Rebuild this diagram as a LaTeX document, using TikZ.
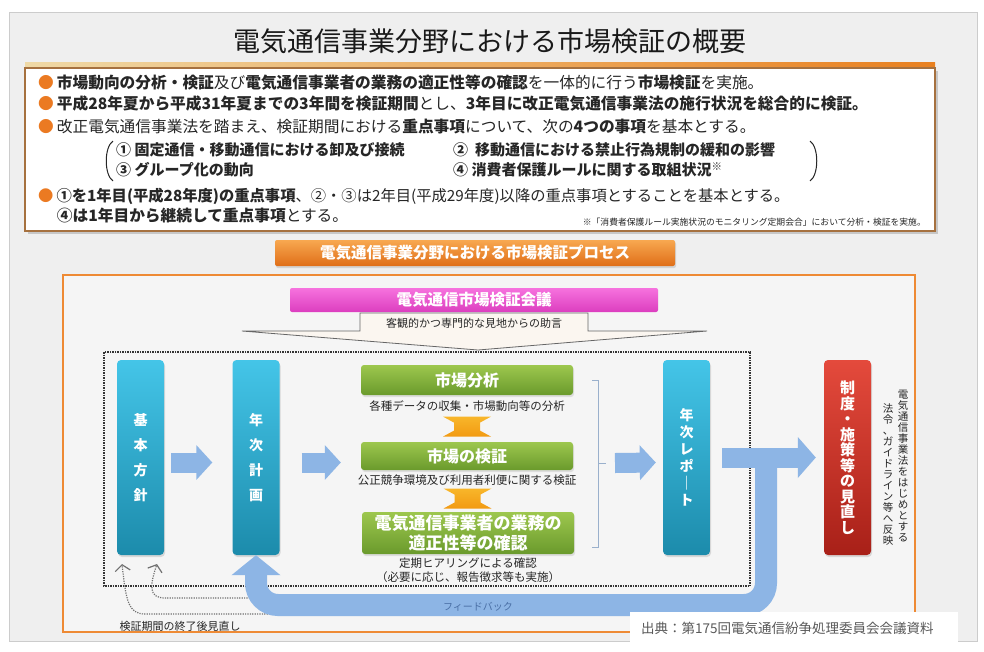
\documentclass[tikz,border=0pt]{standalone}
\usepackage{fontspec}
\setmainfont{Noto Sans CJK JP}
\usetikzlibrary{arrows.meta, calc, positioning, shadows}

\definecolor{slidegray}{HTML}{EFEFEF}
\definecolor{innergray}{HTML}{F5F5F5}
\definecolor{framebrown}{HTML}{A6713F}
\definecolor{bulletorange}{HTML}{EB7A22}
\definecolor{frameorange}{HTML}{EE8A34}
\definecolor{bannertop}{HTML}{F8A850}
\definecolor{bannerbot}{HTML}{DF6E18}
\definecolor{pinktop}{HTML}{F672DE}
\definecolor{pinkbot}{HTML}{DC3EBF}
\definecolor{cyantop}{HTML}{44C5E8}
\definecolor{cyanbot}{HTML}{1C8BAB}
\definecolor{redtop}{HTML}{E44A3C}
\definecolor{redbot}{HTML}{A82018}
\definecolor{greentop}{HTML}{9DC74E}
\definecolor{greenbot}{HTML}{6A9A2C}
\definecolor{arrowblue}{HTML}{8DB5E5}
\definecolor{dbltop}{HTML}{F8B62A}
\definecolor{dblbot}{HTML}{F29A12}
\definecolor{textdark}{HTML}{262626}
\definecolor{dotgray}{HTML}{707070}
\definecolor{calloutfill}{HTML}{FBF6F0}
\definecolor{fbtext}{HTML}{4A6FA5}
\definecolor{titlegold}{HTML}{EFD9A6}
\definecolor{titleorange}{HTML}{E9801F}
\definecolor{bracketblue}{HTML}{9AB0CC}

\newcommand{\bul}{{\color{bulletorange}●}\hspace{3pt}}

\tikzset{
    bluebox/.style={rounded corners=4pt, top color=cyantop, bottom color=cyanbot,
        minimum width=47pt, minimum height=195pt, inner sep=0pt, text=white, align=center,
        font=\fontsize{14}{25}\selectfont\bfseries,
        drop shadow={opacity=0.25, shadow xshift=1pt, shadow yshift=-2pt}},
    redbox/.style={bluebox, top color=redtop, bottom color=redbot,
        font=\fontsize{15}{15.5}\selectfont\bfseries},
    greenbox/.style={rounded corners=3pt, top color=greentop, bottom color=greenbot,
        minimum width=212pt, inner sep=0pt, text=white, align=center,
        font=\fontsize{16}{21}\selectfont\bfseries,
        drop shadow={opacity=0.2, shadow xshift=1pt, shadow yshift=-2pt}},
    caption/.style={inner sep=0pt, align=center, text=textdark,
        font=\fontsize{11.5}{14}\selectfont},
    vtext/.style={anchor=north, inner sep=0pt, align=center, text=textdark,
        font=\fontsize{10.5}{11}\selectfont},
    linetext/.style={anchor=west, inner sep=0pt, text=textdark,
        font=\fontsize{15.7}{18}\selectfont},
    itemtext/.style={anchor=west, inner sep=0pt, text=textdark,
        font=\fontsize{15}{18}\selectfont\bfseries},
    banner/.style={rounded corners=2pt, top color=bannertop, bottom color=bannerbot,
        minimum width=400pt, minimum height=26pt, inner sep=0pt, text=white,
        font=\fontsize{15.5}{18}\selectfont\bfseries},
    pinkbar/.style={banner, top color=pinktop, bottom color=pinkbot,
        minimum width=368pt, minimum height=24pt},
    fatarrow/.style={draw=arrowblue, line width=20pt, -{Triangle[width=34pt, length=16pt]}},
    dblarrow/.style={top color=dbltop, bottom color=dblbot},
    bracketline/.style={draw=bracketblue, line width=0.9pt},
    dotframe/.style={draw=black!80, line width=1.5pt, dash pattern=on 1.5pt off 1pt},
    dotarrow/.style={draw=dotgray, line width=1.2pt, dash pattern=on 1.2pt off 1.2pt,
        -{Straight Barb[length=6pt, width=15pt]}},
}

\begin{document}
\begin{tikzpicture}[x=1pt, y=-1pt]
    \useasboundingbox (0,0) rectangle (984,651);

    % Slide background
    \fill[white] (0,0) rectangle (984,651);
    \draw[fill=slidegray, draw=black!20] (9,12) rectangle (977,641);

    % Title
    \node[text=black!90] (title) at (490,41) {\fontsize{27}{30}\selectfont 電気通信事業分野における市場検証の概要};
    \shade[left color=titlegold, right color=titleorange] (25,62) rectangle (935,68);

    % Summary box
    \fill[black!22] (28,71) rectangle (938,234);
    \draw[draw=framebrown, line width=1.5pt, fill=white] (25,68) rectangle (935,231);

    \node[linetext] (l1) at (38,83) {\bul\textbf{市場動向の分析・検証}及び\textbf{電気通信事業者の業務の適正性等の確認}を一体的に行う\textbf{市場検証}を実施。};
    \node[linetext] (l2) at (38,104) {\bul\textbf{平成28年夏から平成31年夏までの3年間を検証期間}とし、\textbf{3年目に改正電気通信事業法の施行状況を総合的に検証。}};
    \node[linetext] (l3) at (38,127) {\bul 改正電気通信事業法を踏まえ、検証期間における\textbf{重点事項}について、次の\textbf{4つの事項}を基本とする。};

    \node[itemtext] (i1) at (116,150) {① 固定通信・移動通信における卸及び接続};
    \node[itemtext] (i2) at (453,150) {②\ \ 移動通信における禁止行為規制の緩和の影響};
    \node[itemtext] (i3) at (116,170) {③ グループ化の動向};
    \node[itemtext] (i4) at (453,170) {④ 消費者保護ルールに関する取組状況\textsuperscript{※}};
    \draw[textdark, line width=1pt] (113,141) .. controls (104,147) and (104,175) .. (113,181);
    \draw[textdark, line width=1pt] (810,141) .. controls (819,147) and (819,175) .. (810,181);

    \node[linetext, font=\fontsize{15.3}{18}\selectfont] (l4) at (38,196) {\bul\textbf{①を1年目(平成28年度)の重点事項}、②・③は2年目(平成29年度)以降の重点事項とすることを基本とする。};
    \node[linetext] (l5) at (56.7,216) {\textbf{④は1年目から継続して重点事項}とする。};
    \node[anchor=east, inner sep=0pt, text=textdark, font=\fontsize{8.8}{10}\selectfont] (note) at (926,222) {※「消費者保護ルール実施状況のモニタリング定期会合」において分析・検証を実施。};

    % Process banner and frame
    \node[banner, drop shadow={opacity=0.25, shadow xshift=1pt, shadow yshift=-2pt}] (process) at (475,253) {電気通信事業分野における市場検証プロセス};
    \draw[draw=frameorange, line width=2pt, fill=innergray] (63,275) rectangle (915,632);

    % Council and advice
    \node[pinkbar] (kaigi) at (474,300) {電気通信市場検証会議};
    \draw[fill=calloutfill, draw=black!60, line width=0.8pt] (242,331) -- (360,331) -- (360,313) -- (588,313) -- (588,331) -- (707,331) -- (478,350) -- cycle;
    \node[caption, font=\fontsize{11}{12}\selectfont] (advice) at (474,323) {客観的かつ専門的な見地からの助言};

    % Yearly cycle
    \draw[dotframe] (104,352) rectangle (750,586);

    \node[bluebox] (kihon) at (140.5,457.5) {基\\本\\方\\針};
    \node[bluebox] (nenji) at (256,457.5) {年\\次\\計\\画};
    \node[bluebox, font=\fontsize{14}{17}\selectfont\bfseries] (report) at (686.5,457.5) {年\\次\\レ\\ポ\\｜\\ト};
    \node[redbox] (seido) at (847.5,457.5) {制\\度\\・\\施\\策\\等\\の\\見\\直\\し};

    \node[vtext] (hanei1) at (903,390) {電\\気\\通\\信\\事\\業\\法\\を\\は\\じ\\め\\と\\す\\る};
    \node[vtext] (hanei2) at (888,403) {法\\令\\、\\ガ\\イ\\ド\\ラ\\イ\\ン\\等\\へ\\反\\映};

    \node[greenbox, minimum height=30pt] (bunseki) at (467,380) {市場分析};
    \node[caption, below=5pt of bunseki] (cap1) {各種データの収集・市場動向等の分析};
    \node[greenbox, minimum height=28pt] (kensho) at (467,456) {市場の検証};
    \node[caption, below=4pt of kensho] (cap2) {公正競争環境及び利用者利便に関する検証};
    \node[greenbox, minimum height=42pt, font=\fontsize{17}{20}\selectfont\bfseries] (kakunin) at (468,533) {電気通信事業者の業務の\\適正性等の確認};
    \node[caption, below=3pt of kakunin] (cap3) {定期ヒアリングによる確認\\（必要に応じ、報告徴求等も実施）};

    \coordinate (d1) at ($(cap1.south)!0.5!(kensho.north)$);
    \coordinate (d2) at ($(cap2.south)!0.5!(kakunin.north)$);
    \foreach \d in {d1,d2}
        \shade[dblarrow] ([shift={(-24,-10)}]\d) -- ++(48,0) -- ++(-11,6) -- ++(0,8) -- ++(11,6)
            -- ++(-48,0) -- ++(11,-6) -- ++(0,-8) -- cycle;

    % Bracket
    \draw[bracketline] (592,380) -- (598,380) -- (598,547) -- (592,547);
    \draw[bracketline] (598,463) -- (606,463) coordinate (brktip);

    % Arrows
    \draw[fatarrow] ([shift={(7,5)}]kihon.east) -- ([shift={(-20,5)}]nenji.west);
    \draw[fatarrow] ([shift={(22,5)}]nenji.east) -- ([shift={(-20,6.5)}]kensho.west);
    \draw[fatarrow] ([xshift=9pt]brktip) -- ([shift={(-7,5)}]report.west);

    % Review after the period
    \node[caption, font=\fontsize{11}{12}\selectfont] (minaoshi) at (180,626) {検証期間の終了後見直し};
    \draw[dotarrow] (275,614) -- (145,614) .. controls (128,614) and (126,600) .. (122,564);
    \draw[dotarrow] (250,598) -- (165,598) .. controls (148,598) and (150,585) .. (157,564);

    % Feedback
    \coordinate (fbjoin) at (766,458);
    \coordinate (fbcorner) at (766,605);
    \draw[fatarrow, line width=22pt, rounded corners=22pt, -{Triangle[width=48pt, length=20pt]}]
        (fbjoin) -- (fbcorner) -- (nenji.south |- fbcorner) -- (nenji.south);
    \draw[fatarrow, -{Triangle[width=40pt, length=18pt]}] ([xshift=12pt]report.east) -- ([xshift=-8pt]seido.west);
    \node[inner sep=0pt, text=fbtext, font=\fontsize{10}{11}\selectfont] (fblabel) at (478,607) {フィードバック};

    % Source
    \fill[white] (630,612) rectangle (958,646);
    \node[anchor=west, inner sep=0pt, text=black!65, font=\fontsize{13.5}{15}\selectfont] (source) at (641,628) {出典：第175回電気通信紛争処理委員会会議資料};
\end{tikzpicture}
\end{document}
